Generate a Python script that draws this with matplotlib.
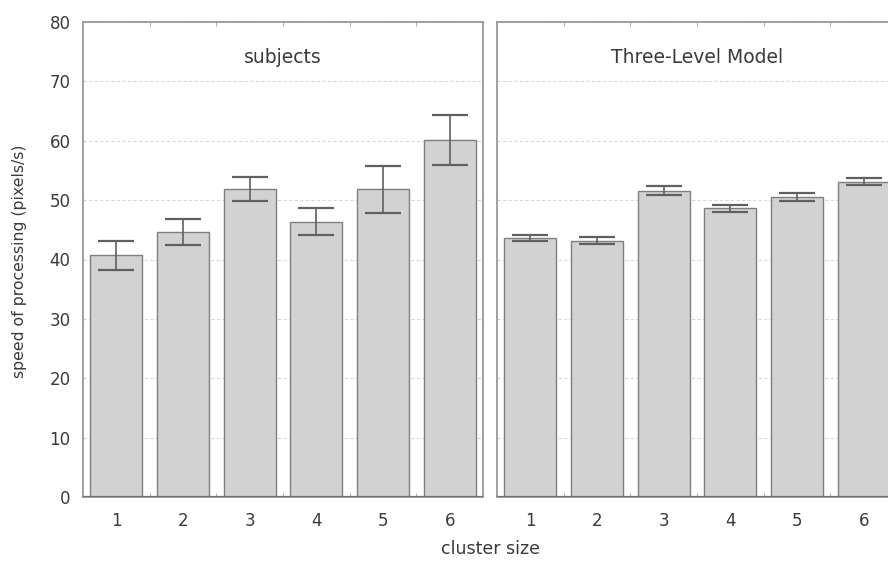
import matplotlib
matplotlib.use("Agg")
import matplotlib.pyplot as plt
import numpy as np

plt.rcParams["font.family"] = ["DejaVu Sans"]

# Mean speed of processing per cluster size, with error-bar half widths
cluster_sizes = ["1", "2", "3", "4", "5", "6"]
subjects_mean = [40.7, 44.6, 51.9, 46.4, 51.8, 60.2]
subjects_err = [2.5, 2.2, 2.0, 2.2, 4.0, 4.2]
model_mean = [43.7, 43.2, 51.6, 48.6, 50.5, 53.1]
model_err = [0.5, 0.6, 0.7, 0.6, 0.7, 0.6]
panel_titles = ["subjects", "Three-Level Model"]
y_ticks = [0, 10, 20, 30, 40, 50, 60, 70, 80]

W, H = 888, 564
fig = plt.figure(figsize=(W / 100, H / 100), dpi=100)
fig.patch.set_facecolor("white")

text_color = "#3a3a3a"
frame_color = "#9a9a9a"


def px_axes(x0, y_top, w, h):
    return fig.add_axes([x0 / W, (H - y_top - h) / H, w / W, h / H])


ax_left = px_axes(83, 22, 400, 475)
ax_right = px_axes(497, 22, 400, 475)

x = np.arange(1, len(cluster_sizes) + 1)

for ax, means, errs, title in [
    (ax_left, subjects_mean, subjects_err, panel_titles[0]),
    (ax_right, model_mean, model_err, panel_titles[1]),
]:
    ax.set_xlim(0.5, len(cluster_sizes) + 0.5)
    ax.set_ylim(0, 80)
    ax.set_yticks(y_ticks)
    ax.yaxis.grid(True, color="#d8d8d8", linestyle=(0, (3, 2)), linewidth=0.8)
    ax.set_axisbelow(True)
    ax.bar(x, means, width=0.78, color="#d2d2d2", edgecolor="#7f7f7f",
           linewidth=1.0, zorder=2)
    ax.errorbar(x, means, yerr=errs, fmt="none", ecolor="#606060",
                elinewidth=1.2, capsize=13, capthick=1.6, zorder=3)
    ax.axhline(0, color="#707070", linewidth=1.6, zorder=4)
    for s in ax.spines.values():
        s.set_color(frame_color)
        s.set_linewidth(1.3)
    ax.set_xticks(x)
    ax.set_xticklabels(cluster_sizes, fontsize=12, color=text_color)
    ax.set_xticks(np.arange(1.5, len(cluster_sizes)), minor=True)
    ax.tick_params(axis="x", which="major", length=0, pad=11)
    ax.tick_params(axis="x", which="minor", direction="in", length=3,
                   top=True, bottom=True, color=frame_color)
    ax.tick_params(axis="y", length=0, pad=9, labelsize=12,
                   labelcolor=text_color)
    ax.text(0.5, 0.926, title, transform=ax.transAxes, ha="center",
            va="center", fontsize=13.5, color=text_color)

ax_right.set_yticklabels([])

fig.text(20 / W, 1 - 261 / H, "speed of processing (pixels/s)", rotation=90,
         ha="center", va="center", fontsize=11.3, color=text_color)
fig.text(490 / W, 1 - 549 / H, "cluster size", ha="center", va="center",
         fontsize=12.5, color=text_color)

fig.savefig("out.png", dpi=100, facecolor="white")
